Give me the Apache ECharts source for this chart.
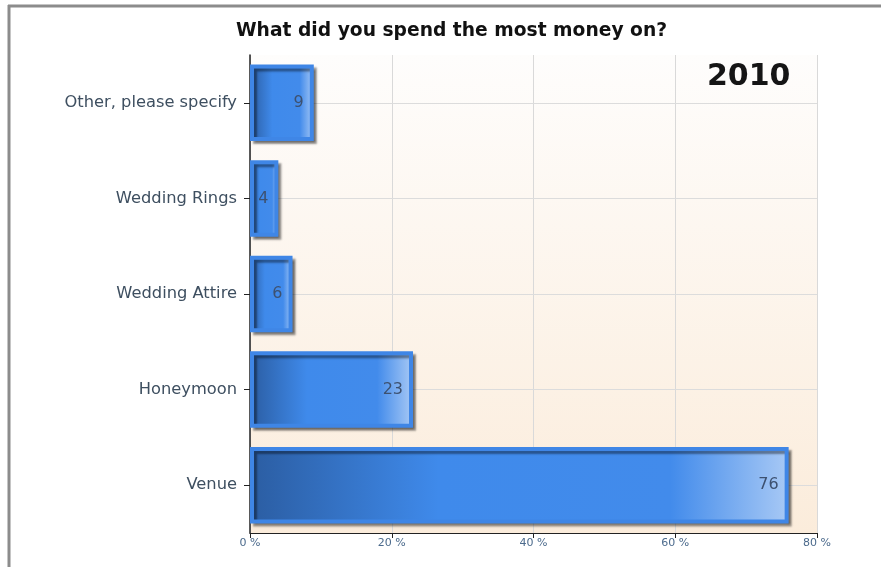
<!DOCTYPE html>
<html>
<head>
<meta charset="utf-8">
<script src="https://cdn.jsdelivr.net/npm/echarts@6/dist/echarts.min.js"></script>
<style>
  html, body { margin: 0; padding: 0; background: #fff; }
  #chart { width: 881px; height: 567px; }
</style>
</head>
<body>
<div id="chart"></div>
<script>
// categories bottom -> top, as the category axis draws them
const categories = ["Venue", "Honeymoon", "Wedding Attire", "Wedding Rings", "Other, please specify"];
const percents = [76, 23, 6, 4, 9];
const xTicks = [0, 20, 40, 60, 80];

const chart = echarts.init(document.getElementById("chart"));

const barFill = new echarts.graphic.LinearGradient(0, 0, 1, 0, [
  { offset: 0, color: "#2b5da2" },
  { offset: 0.35, color: "#3f8aeb" },
  { offset: 0.78, color: "#428beb" },
  { offset: 1, color: "#a8c9f5" }
]);

const option = {
  backgroundColor: "#ffffff",
  animation: false,
  grid: {
    left: 250,
    right: 64,
    top: 55,
    bottom: 34,
    show: true,
    borderWidth: 0,
    backgroundColor: new echarts.graphic.LinearGradient(0, 0, 0, 1, [
      { offset: 0, color: "#fefdfc" },
      { offset: 1, color: "#fbecdb" }
    ])
  },
  graphic: [
    // outer frame of the screenshot
    { type: "line", shape: { x1: 8, y1: 6, x2: 881, y2: 6 }, style: { stroke: "#8c8c8c", lineWidth: 3 } },
    { type: "line", shape: { x1: 9, y1: 5, x2: 9, y2: 567 }, style: { stroke: "#8c8c8c", lineWidth: 3 } },
    {
      type: "text", left: 236, top: 22, z: 10,
      style: {
        text: "What did you spend the most money on?",
        font: "bold 18.7px 'DejaVu Sans'",
        fill: "#111"
      }
    },
    {
      type: "text", left: 707, top: 62, z: 10,
      style: {
        text: "2010",
        font: "bold 30px 'DejaVu Sans'",
        fill: "#151515"
      }
    }
  ],
  xAxis: {
    type: "value",
    min: 0,
    max: 80,
    interval: 20,
    axisLine: { show: true, lineStyle: { color: "#222", width: 1 } },
    axisTick: { show: true, length: 5, lineStyle: { color: "#222" } },
    axisLabel: {
      margin: 5,
      fontFamily: "DejaVu Sans",
      fontSize: 11,
      color: "#4b6a8c",
      formatter: v => xTicks.includes(v) ? v + " %" : ""
    },
    splitLine: { show: true, lineStyle: { color: "#d9d9d9", width: 1 } }
  },
  yAxis: {
    type: "category",
    data: categories,
    axisLine: { show: true, lineStyle: { color: "#222", width: 1.5 } },
    axisTick: { show: true, alignWithLabel: true, length: 6, lineStyle: { color: "#222" } },
    axisLabel: {
      margin: 13,
      fontFamily: "DejaVu Sans",
      fontSize: 16.3,
      color: "#3e4f60"
    },
    splitLine: { show: false }
  },
  series: [
    {
      type: "bar",
      data: percents,
      barWidth: "80%",
      itemStyle: {
        color: barFill,
        borderColor: "#3f86e6",
        borderWidth: 4,
        shadowColor: "rgba(0,0,0,0.4)",
        shadowBlur: 2,
        shadowOffsetX: 3,
        shadowOffsetY: 3
      },
      label: {
        show: true,
        position: "insideRight",
        distance: 10,
        fontFamily: "DejaVu Sans",
        fontSize: 16,
        color: "#3d5170"
      },
      markLine: {
        silent: true,
        z: 1,
        symbol: "none",
        label: { show: false },
        lineStyle: { type: "solid", color: "#dcdcdc", width: 1 },
        data: categories.map(c => ({ yAxis: c }))
      }
    }
  ]
};

chart.setOption(option);
</script>
</body>
</html>
